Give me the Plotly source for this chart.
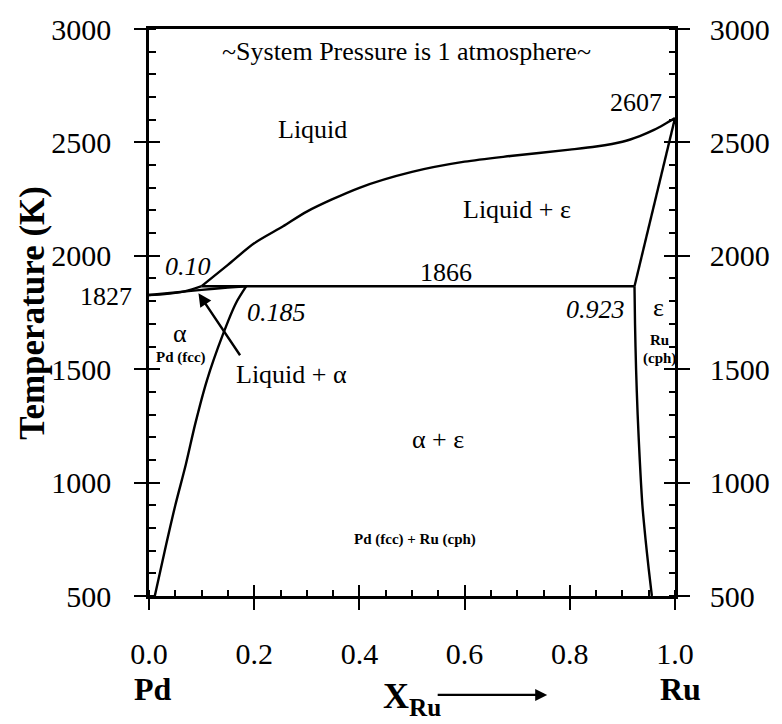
import plotly.graph_objects as go

# Pd-Ru binary phase diagram at 1 atm
FONT = "Liberation Serif, Times New Roman, Times, DejaVu Serif, serif"

# liquidus from the peritectic liquid (0.10, 1866 K) up to pure Ru (2607 K)
liq_x = [0.10, 0.15, 0.20, 0.255, 0.30, 0.40, 0.50, 0.60, 0.687, 0.80, 0.85, 0.90, 0.933, 0.96, 0.98, 1.00]
liq_T = [1866, 1960, 2055, 2130, 2195, 2300, 2370, 2415, 2440, 2468, 2482, 2503, 2528, 2555, 2580, 2607]

# Pd-side liquidus and solidus from the Pd melting point (1827 K)
pd_liq_x = [0.00, 0.03, 0.06, 0.08, 0.10]
pd_liq_T = [1827, 1831, 1840, 1851, 1866]
pd_sol_x = [0.00, 0.05, 0.10, 0.15, 0.185]
pd_sol_T = [1827, 1838, 1850, 1860, 1866]

# peritectic isotherm
peri_x = [0.10, 0.923]
peri_T = [1866, 1866]

# Ru-side solidus
ru_sol_x = [0.923, 1.00]
ru_sol_T = [1866, 2607]

# solvus of alpha (Pd fcc)
a_solv_x = [0.185, 0.165, 0.14, 0.11, 0.088, 0.07, 0.05, 0.03, 0.011]
a_solv_T = [1866, 1790, 1650, 1450, 1260, 1080, 900, 700, 500]

# solvus of epsilon (Ru cph)
e_solv_x = [0.923, 0.924, 0.926, 0.929, 0.933, 0.938, 0.944, 0.950, 0.956]
e_solv_T = [1866, 1700, 1500, 1300, 1100, 900, 750, 620, 500]

x_ticks = [0.0, 0.2, 0.4, 0.6, 0.8, 1.0]
x_labels = ["0.0", "0.2", "0.4", "0.6", "0.8", "1.0"]
y_ticks = [500, 1000, 1500, 2000, 2500, 3000]
y_labels = ["500", "1000", "1500", "2000", "2500", "3000"]

LW = 2.4
line = dict(color="black", width=LW)

fig = go.Figure()
for xs, ts in [(liq_x, liq_T), (pd_liq_x, pd_liq_T), (pd_sol_x, pd_sol_T),
               (peri_x, peri_T), (ru_sol_x, ru_sol_T), (a_solv_x, a_solv_T),
               (e_solv_x, e_solv_T)]:
    fig.add_trace(go.Scatter(x=xs, y=ts, mode="lines", line=line,
                             line_shape="spline", line_smoothing=0.8,
                             hoverinfo="skip", showlegend=False))

# helper traces so the overlay axes are drawn
for xa, ya in [("x", "y2"), ("x3", "y3"), ("x", "y4")]:
    fig.add_trace(go.Scatter(x=[None], y=[None], xaxis=xa, yaxis=ya,
                             showlegend=False, hoverinfo="skip"))

tickfont = dict(family=FONT, size=30, color="black")
common_x = dict(range=[0, 1], tickvals=x_ticks, showgrid=False, zeroline=False)
common_y = dict(range=[500, 3000], tickvals=y_ticks, showgrid=False, zeroline=False)

fig.update_layout(
    width=782, height=724,
    margin=dict(l=149, r=93, t=17, b=128),
    paper_bgcolor="white", plot_bgcolor="white",
    font=dict(family=FONT, color="black"),
    xaxis=dict(**common_x, ticktext=x_labels, showline=True, linecolor="black",
               linewidth=2.5, mirror=True, ticks="outside", ticklen=11,
               tickwidth=2, tickcolor="black", tickfont=tickfont,
               ticklabelstandoff=18,
               minor=dict(dtick=0.05, ticks="inside", ticklen=6, tickwidth=1.8,
                          tickcolor="black")),
    yaxis=dict(**common_y, ticktext=y_labels, showline=True, linecolor="black",
               linewidth=2.5, ticks="outside", ticklen=12, tickwidth=2,
               tickcolor="black", tickfont=tickfont, ticklabelstandoff=17,
               minor=dict(dtick=100, ticks="inside", ticklen=7, tickwidth=1.8,
                          tickcolor="black")),
    yaxis2=dict(**common_y, ticktext=y_labels, overlaying="y", side="right",
                anchor="x", showline=True, linecolor="black", linewidth=2.5,
                ticks="outside", ticklen=12, tickwidth=2, tickcolor="black",
                tickfont=tickfont, ticklabelstandoff=14,
                minor=dict(dtick=100, ticks="inside", ticklen=6, tickwidth=1.8,
                           tickcolor="black")),
    # inner halves of the major ticks
    xaxis3=dict(**common_x, overlaying="x", anchor="y", side="bottom",
                ticks="inside", ticklen=11, tickwidth=2, tickcolor="black",
                showticklabels=False, showline=False),
    yaxis3=dict(**common_y, overlaying="y", anchor="x", side="left",
                ticks="inside", ticklen=11, tickwidth=2, tickcolor="black",
                showticklabels=False, showline=False),
    yaxis4=dict(**common_y, overlaying="y", anchor="x", side="right",
                ticks="inside", ticklen=11, tickwidth=2, tickcolor="black",
                showticklabels=False, showline=False),
)

txt = dict(family=FONT, size=26, color="black")
ital = dict(family=FONT, size=26, color="black", style="italic")
small = dict(family=FONT, size=15, color="black", weight="bold")


def note(x, y, text, font, xanchor="center", **kw):
    fig.add_annotation(x=x, y=y, text=text, font=font, showarrow=False,
                       xanchor=xanchor, yanchor="middle", **kw)


note(0.49, 2900, "~System Pressure is 1 atmosphere~", txt)
note(0.31, 2555, "Liquid", txt)
note(0.70, 2205, "Liquid + ε", txt)
note(0.565, 1925, "1866", txt)
note(0.075, 1955, "0.10", ital)
note(0.243, 1752, "0.185", ital)
note(0.909, 1765, "0.923", ital, xanchor="right")
note(0.969, 1774, "ε", txt)
note(0.970, 1627, "Ru", small)
note(0.970, 1545, "(cph)", small)
note(0.059, 1657, "α", txt)
note(0.06, 1553, "Pd (fcc)", small)
note(0.27, 1476, "Liquid + α", txt)
note(0.55, 1190, "α + ε", txt)
note(0.506, 750, "Pd (fcc) + Ru (cph)", small)
note(1.0, 2676, "2607", txt, xanchor="right", xshift=-11)
fig.add_annotation(xref="paper", x=0, y=1822, text="1827", font=txt,
                   showarrow=False, xanchor="right", yanchor="middle", xshift=-15)

# arrow to the Liquid + alpha sliver
fig.add_annotation(x=0.094, y=1835, ax=0.175, ay=1555, axref="x", ayref="y",
                   text="", showarrow=True, arrowhead=2, arrowsize=1.1,
                   arrowwidth=2.4, arrowcolor="black")

# axis titles
fig.add_annotation(xref="paper", yref="paper", x=-0.222, y=0.5,
                   text="Temperature (K)", textangle=-90, showarrow=False,
                   font=dict(family=FONT, size=35, color="black", weight="bold"),
                   xanchor="center", yanchor="middle")
fig.add_annotation(xref="paper", yref="paper", x=0.007, y=-0.164, text="Pd",
                   showarrow=False, xanchor="center", yanchor="middle",
                   font=dict(family=FONT, size=32, color="black", weight="bold"))
fig.add_annotation(xref="paper", yref="paper", x=1.011, y=-0.164, text="Ru",
                   showarrow=False, xanchor="center", yanchor="middle",
                   font=dict(family=FONT, size=32, color="black", weight="bold"))
fig.add_annotation(xref="paper", yref="paper", x=0.5, y=-0.18,
                   text="X<sub>Ru</sub>", showarrow=False, xanchor="center",
                   yanchor="middle",
                   font=dict(family=FONT, size=36, color="black", weight="bold"))
fig.add_annotation(xref="paper", yref="paper", x=0.757, y=-0.1744, ax=-111, ay=0,
                   text="", showarrow=True, arrowhead=2, arrowsize=1,
                   arrowwidth=2.4, arrowcolor="black")

fig.write_html("out.html")
